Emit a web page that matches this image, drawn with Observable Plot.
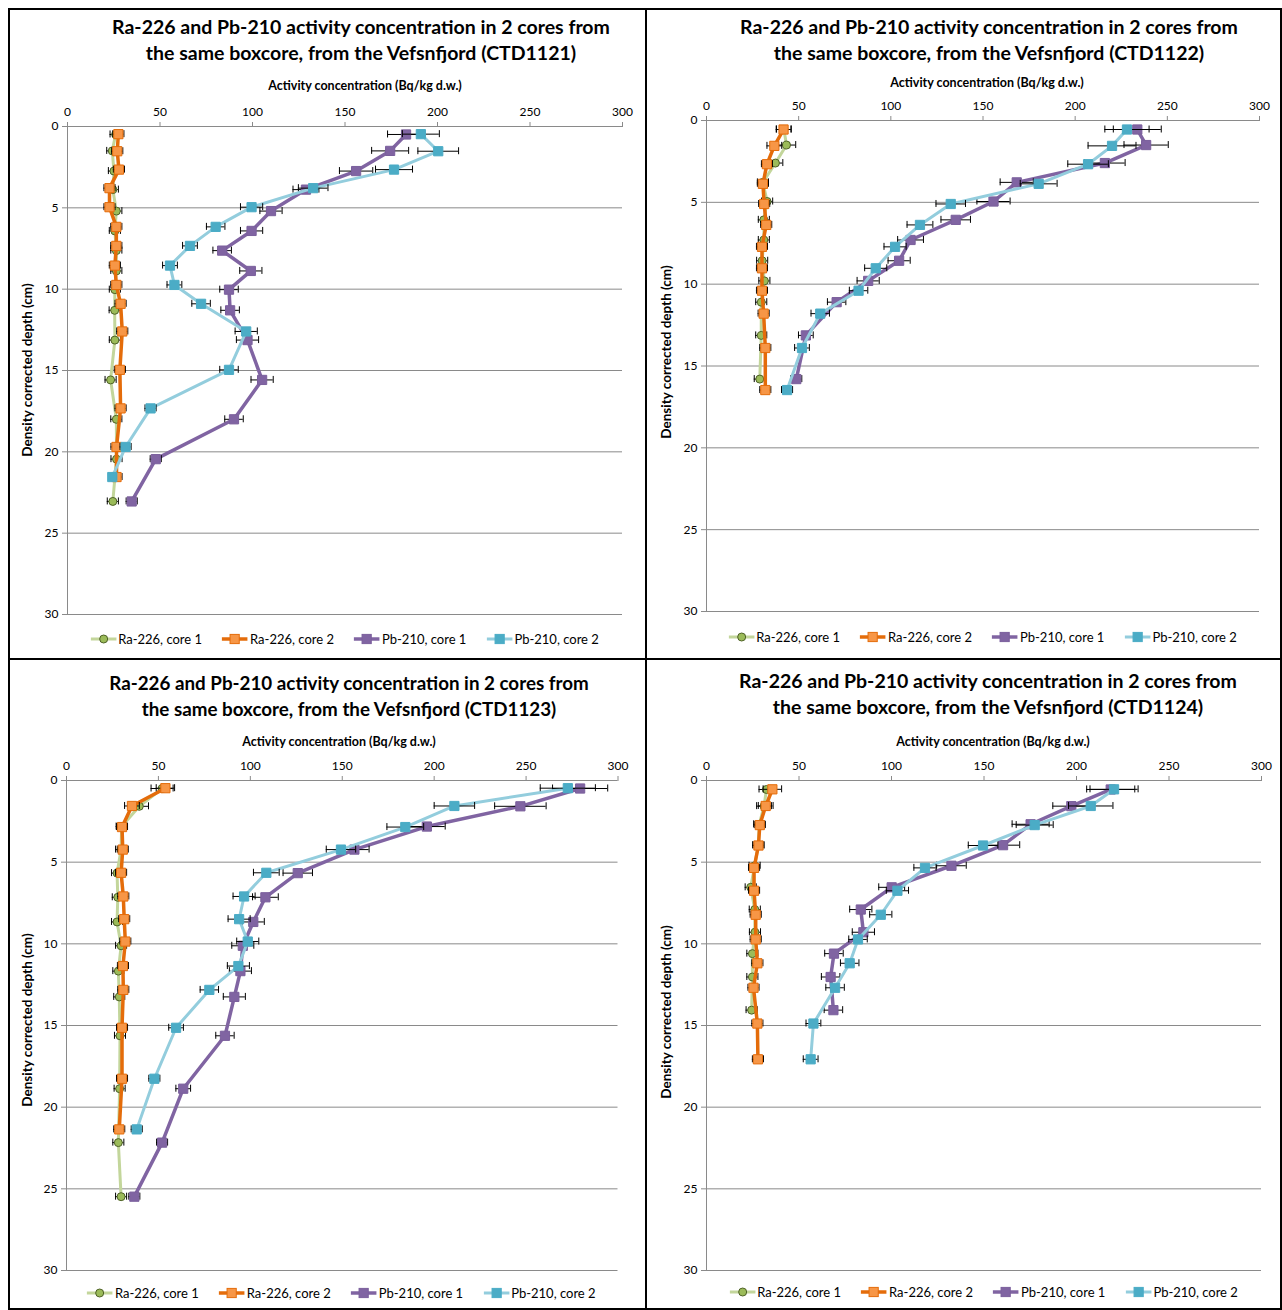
<!DOCTYPE html>
<html>
<head>
<meta charset="utf-8">
<script src="https://cdn.jsdelivr.net/npm/d3@7"></script>
<script src="https://cdn.jsdelivr.net/npm/@observablehq/plot@0.6"></script>
<style>
  body { margin: 0; background: #fff; font-family: Lato, "Open Sans", sans-serif; color: #000; }
  #page { position: relative; width: 1282px; height: 1310px; overflow: hidden; background: #fff; }
  .frame { position: absolute; background: #000; }
  .abs { position: absolute; white-space: nowrap; transform: translate(-50%, -50%); }
  .title { font-weight: 700; font-size: 19.5px; text-align: center; line-height: 26px; }
  .xlabel { font-weight: 700; font-size: 12.5px; }
  .ylabel { font-weight: 700; font-size: 13.5px; transform: translate(-50%, -50%) rotate(-90deg); }
  .legend { display: flex; align-items: center; gap: 20px; font-size: 13px; }
  .legend .item { display: flex; align-items: center; gap: 2px; }
  .plot { position: absolute; }
</style>
</head>
<body>
<div id="page"></div>
<script>
// ---- Data: depth (cm), activity (Bq/kg d.w.) and its uncertainty, per core ----
const stations = ["CTD1121", "CTD1122", "CTD1123", "CTD1124"];
const seriesNames = ["Ra-226, core 1", "Ra-226, core 2", "Pb-210, core 1", "Pb-210, core 2"];
const xTicks = [0, 50, 100, 150, 200, 250, 300];
const yTicks = [0, 5, 10, 15, 20, 25, 30];

// CTD1121
const depth1121c1 = [0.49, 1.5, 2.74, 3.88, 5.2, 6.42, 7.63, 8.88, 10.03, 11.3, 13.13, 15.58, 18.0, 20.45, 23.05];
const ra1121c1 = [26, 24.2, 25.1, 24.5, 26.4, 25.6, 26.4, 26.4, 25.6, 25.5, 25.6, 23.3, 26.4, 26.5, 24.5];
const raErr1121c1 = [3, 3, 3, 3, 3, 3, 3, 3, 3, 3, 3, 3, 3, 3, 3];
const pb1121c1 = [183, 174.4, 156, 128.9, 110, 99.5, 83.6, 99.1, 87.3, 87.9, 97.3, 105.2, 90, 47.7, 34.7];
const pbErr1121c1 = [10, 10, 9, 7, 6, 6, 5, 6, 5, 5, 6, 6, 5, 3, 3];
const depth1121c2 = [0.47, 1.52, 2.65, 3.79, 4.96, 6.17, 7.34, 8.55, 9.74, 10.9, 12.6, 14.96, 17.33, 19.7, 21.55];
const ra1121c2 = [27.5, 26.9, 27.8, 22.7, 22.7, 26.4, 26.4, 25.6, 26.4, 28.7, 29.6, 28.3, 28.7, 26.5, 26.5];
const raErr1121c2 = [3, 3, 3, 3, 3, 3, 3, 3, 3, 3, 3, 3, 3, 3, 3];
const pb1121c2 = [191, 200.4, 176.5, 132.8, 99.5, 80.1, 66.2, 55.4, 57.8, 72.2, 96.6, 87.3, 44.9, 31.4, 24.2];
const pbErr1121c2 = [10, 11, 10, 8, 6, 5, 4, 4, 4, 5, 6, 5, 3, 3, 2];

// CTD1122
const depth1122c1 = [0.55, 1.5, 2.6, 3.78, 4.95, 6.07, 7.3, 8.57, 9.8, 11.1, 13.13, 15.8];
const ra1122c1 = [42, 43.4, 37.4, 30.6, 32.9, 31.1, 31.1, 30.2, 31.4, 29.7, 29.7, 28.9];
const raErr1122c1 = [4, 5, 4, 3, 3, 3, 3, 3, 3, 3, 3, 3];
const pb1122c1 = [233.7, 238.5, 216.1, 168.3, 155.7, 135.2, 110.7, 104.5, 87.7, 70.6, 53.9, 48.7];
const pbErr1122c1 = [13, 12, 11, 9, 9, 8, 7, 6, 6, 5, 4, 3];
const depth1122c2 = [0.55, 1.55, 2.67, 3.87, 5.1, 6.38, 7.72, 9.03, 10.4, 11.8, 13.9, 16.47];
const ra1122c2 = [41.8, 36.8, 32.8, 30.6, 31.3, 32.4, 30.1, 30.1, 30.1, 31.0, 31.9, 31.9];
const raErr1122c2 = [4, 4, 3, 3, 3, 3, 3, 3, 3, 3, 3, 3];
const pb1122c2 = [228.1, 220, 207, 180.2, 132.5, 115.8, 102.3, 91.8, 82.5, 61.7, 51.8, 43.7];
const pbErr1122c2 = [12, 13, 11, 10, 8, 7, 6, 6, 5, 5, 4, 3];

// CTD1123
const depth1123c1 = [0.49, 1.58, 2.82, 4.23, 5.67, 7.15, 8.66, 10.12, 11.67, 13.25, 15.63, 18.87, 22.17, 25.48];
const ra1123c1 = [52, 39.6, 30, 29.7, 27.5, 27.9, 27.5, 29.7, 28.2, 28.7, 29.1, 28.9, 28.2, 29.7];
const raErr1123c1 = [6, 5, 3, 3, 3, 3, 3, 3, 3, 3, 3, 3, 3, 3];
const pb1123c1 = [279.4, 246.9, 196, 156.6, 125.8, 108.2, 101.6, 95.9, 94.6, 91.3, 86.2, 63.5, 52, 36.9];
const pbErr1123c1 = [15, 14, 10, 8, 8, 7, 6, 6, 6, 6, 5, 4, 3, 3];
const depth1123c2 = [0.47, 1.56, 2.85, 4.23, 5.65, 7.1, 8.49, 9.86, 11.36, 12.82, 15.14, 18.26, 21.36];
const ra1123c2 = [53.8, 35.6, 30.2, 30.6, 29.7, 30.9, 31.4, 32, 30.7, 30.9, 30.2, 30.2, 28.7];
const raErr1123c2 = [5, 4, 3, 3, 3, 3, 3, 3, 3, 3, 3, 3, 3];
const pb1123c2 = [272.7, 211, 184.3, 149.3, 108.7, 96.6, 93.9, 98.6, 93.5, 77.7, 59.6, 47.8, 38.2];
const pbErr1123c2 = [15, 11, 10, 8, 7, 6, 6, 6, 6, 5, 4, 3, 3];

// CTD1124
const depth1124c1 = [0.55, 1.57, 2.68, 3.96, 5.22, 6.54, 7.9, 9.29, 10.6, 12.03, 14.06];
const ra1124c1 = [32.4, 31.1, 28.5, 28, 26, 23.9, 26.1, 26.2, 24.8, 24.8, 24.4];
const raErr1124c1 = [4, 4, 3, 3, 3, 3, 3, 3, 3, 3, 3];
const pb1124c1 = [218.5, 197.2, 175.2, 160.3, 132.4, 100.1, 83.4, 84.8, 68.9, 67.1, 68.6];
const pbErr1124c1 = [13, 10, 10, 9, 8, 7, 6, 6, 5, 5, 5];
const depth1124c2 = [0.54, 1.56, 2.73, 3.98, 5.35, 6.75, 8.22, 9.73, 11.19, 12.69, 14.88, 17.07];
const ra1124c2 = [35.6, 32, 28.8, 28.1, 25.7, 25.7, 26.6, 26.6, 27.5, 25.4, 27.5, 27.8];
const raErr1124c2 = [5, 4, 3, 3, 3, 3, 3, 3, 3, 3, 3, 3];
const pb1124c2 = [220.3, 207.7, 177.4, 149.5, 118.1, 103.2, 94.2, 81.9, 77.4, 69.5, 57.8, 56.3];
const pbErr1124c2 = [13, 12, 10, 8, 6, 6, 6, 5, 5, 5, 4, 4];

// ---- Series styles (Excel-like palette) ----
const styles = [
  {line: "#c3d69b", width: 3,   fill: "#9bbb59", stroke: "#4f6228", symbol: "circle", r: 4},
  {line: "#e46c0a", width: 3.5, fill: "#f79646", stroke: "#e46c0a", symbol: "square", r: 5.2},
  {line: "#8064a2", width: 3.5, fill: "#8064a2", stroke: "#7a5f9c", symbol: "square", r: 5.2},
  {line: "#93cddd", width: 3,   fill: "#4bacc6", stroke: "#4bacc6", symbol: "square", r: 5.2}
];

// ---- Panel layout (page pixels) ----
const panels = [
  {station: stations[0], x0: 67, x1: 622, y0: 126, y1: 614, tx: 361, ty: 40, ts: 19.5, xlx: 365, xly: 85, ylx: 27, yly: 370, ly: 639,
   series: [[depth1121c1, ra1121c1, raErr1121c1], [depth1121c2, ra1121c2, raErr1121c2],
            [depth1121c1, pb1121c1, pbErr1121c1], [depth1121c2, pb1121c2, pbErr1121c2]]},
  {station: stations[1], x0: 706, x1: 1259, y0: 120, y1: 611, tx: 989, ty: 40, ts: 19.5, xlx: 987, xly: 82, ylx: 666, yly: 352, ly: 637,
   series: [[depth1122c1, ra1122c1, raErr1122c1], [depth1122c2, ra1122c2, raErr1122c2],
            [depth1122c1, pb1122c1, pbErr1122c1], [depth1122c2, pb1122c2, pbErr1122c2]]},
  {station: stations[2], x0: 65.5, x1: 617, y0: 780, y1: 1270, tx: 349, ty: 696, ts: 18.8, xlx: 339, xly: 741, ylx: 27, yly: 1020, ly: 1293,
   series: [[depth1123c1, ra1123c1, raErr1123c1], [depth1123c2, ra1123c2, raErr1123c2],
            [depth1123c1, pb1123c1, pbErr1123c1], [depth1123c2, pb1123c2, pbErr1123c2]]},
  {station: stations[3], x0: 706, x1: 1261, y0: 780, y1: 1270, tx: 988, ty: 694, ts: 19.5, xlx: 993, xly: 741, ylx: 666, yly: 1012, ly: 1292,
   series: [[depth1124c1, ra1124c1, raErr1124c1], [depth1124c2, ra1124c2, raErr1124c2],
            [depth1124c1, pb1124c1, pbErr1124c1], [depth1124c2, pb1124c2, pbErr1124c2]]}
];

const page = document.getElementById("page");
const grey = "#8a8a8a";

function addDiv(cls, x, y, html) {
  const d = document.createElement("div");
  d.className = cls;
  d.style.left = x + "px";
  d.style.top = y + "px";
  d.innerHTML = html;
  page.appendChild(d);
  return d;
}

function swatch(st) {
  const sym = st.symbol === "circle"
    ? `<circle cx="13" cy="6" r="${st.r}" fill="${st.fill}" stroke="${st.stroke}"/>`
    : `<rect x="${13 - 4.6}" y="${6 - 4.6}" width="9.2" height="9.2" fill="${st.fill}" stroke="${st.stroke}"/>`;
  return `<svg width="26" height="12"><line x1="0" x2="26" y1="6" y2="6" stroke="${st.line}" stroke-width="${st.width}"/>${sym}</svg>`;
}

for (const p of panels) {
  const ML = 45, MT = 30, MR = 12, MB = 12;
  const w = p.x1 - p.x0, h = p.y1 - p.y0;

  const marks = [
    Plot.gridY(yTicks.slice(1), {stroke: grey, strokeOpacity: 1, strokeWidth: 1}),
    Plot.ruleY([0], {stroke: grey}),
    Plot.ruleX([0], {stroke: grey}),
    Plot.axisX(xTicks, {anchor: "top", tickSize: 5, tickPadding: 6, stroke: grey, fill: "#000", label: null, fontSize: 12}),
    Plot.axisY(yTicks, {anchor: "left", tickSize: 5, tickPadding: 4, stroke: grey, fill: "#000", label: null, fontSize: 12})
  ];

  p.series.forEach(([depths, values, errs], k) => {
    const st = styles[k];
    const rows = depths.map((d, i) => ({depth: d, value: values[i], err: errs[i]}));
    marks.push(
      Plot.line(rows, {x: "value", y: "depth", stroke: st.line, strokeWidth: st.width, curve: "linear"}),
      Plot.ruleY(rows, {y: "depth", x1: (d) => d.value - d.err, x2: (d) => d.value + d.err, stroke: "#000", strokeWidth: 1}),
      Plot.ruleX(rows, {x: (d) => d.value - d.err, y1: "depth", y2: "depth", insetTop: -3.5, insetBottom: -3.5, stroke: "#000", strokeWidth: 1}),
      Plot.ruleX(rows, {x: (d) => d.value + d.err, y1: "depth", y2: "depth", insetTop: -3.5, insetBottom: -3.5, stroke: "#000", strokeWidth: 1}),
      Plot.dot(rows, {x: "value", y: "depth", symbol: st.symbol, r: st.r, fill: st.fill, stroke: st.stroke, strokeWidth: 1})
    );
  });

  const svg = Plot.plot({
    width: w + ML + MR,
    height: h + MT + MB,
    marginLeft: ML, marginRight: MR, marginTop: MT, marginBottom: MB,
    x: {domain: [0, 300]},
    y: {domain: [0, 30], reverse: true},
    style: {fontFamily: "Lato, 'Open Sans', sans-serif", fontSize: "12px", background: "transparent", overflow: "visible"},
    marks
  });
  svg.classList.add("plot");
  svg.style.left = (p.x0 - ML) + "px";
  svg.style.top = (p.y0 - MT) + "px";
  page.appendChild(svg);

  const t = addDiv("abs title", p.tx, p.ty,
    `Ra-226 and Pb-210 activity concentration in 2 cores from<br>the same boxcore, from the Vefsnfjord (${p.station})`);
  t.style.fontSize = p.ts + "px";
  addDiv("abs xlabel", p.xlx, p.xly, "Activity concentration (Bq/kg d.w.)");
  addDiv("abs ylabel", p.ylx, p.yly, "Density corrected depth (cm)");
  addDiv("abs legend", (p.x0 + p.x1) / 2, p.ly,
    seriesNames.map((n, k) => `<div class="item">${swatch(styles[k])}<span>${n}</span></div>`).join(""));
}

// Panel frames
const frames = [
  [8, 8, 1274, 2], [8, 658, 1274, 2], [8, 1308, 1274, 2],
  [8, 8, 2, 1302], [645, 8, 2, 1302], [1280, 8, 2, 1302]
];
for (const [x, y, w, h] of frames) {
  const f = document.createElement("div");
  f.className = "frame";
  Object.assign(f.style, {left: x + "px", top: y + "px", width: w + "px", height: h + "px"});
  page.appendChild(f);
}
</script>
</body>
</html>
